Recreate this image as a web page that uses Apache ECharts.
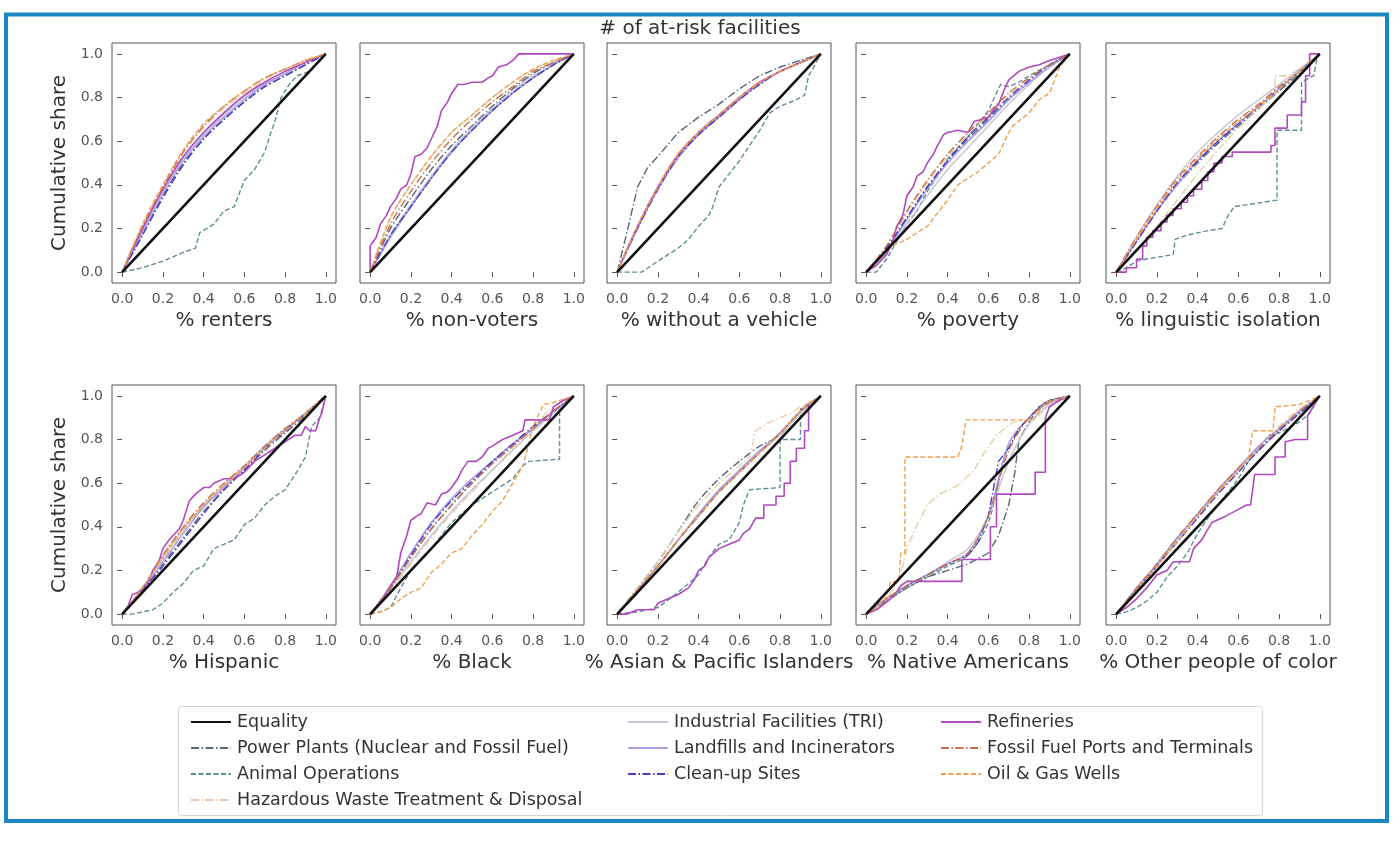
<!DOCTYPE html>
<html>

<head>
  <meta charset="utf-8">
  <title># of at-risk facilities</title>
  <script type="text/JavaScript" src="https://cdn.jsdelivr.net/npm/echarts@6/dist/echarts.min.js"></script>
  <style>
    body {
      background-color: #fff;
      padding: 0;
      margin: 0;
    }

    #main {
      width: 1400px;
      height: 855px;
    }
  </style>
</head>

<body>
  <div id="main"></div>

  <script type="text/javascript">
    // x positions for rows given as plain y lists
    var xGrid = [0, 0.1, 0.2, 0.3, 0.4, 0.5, 0.6, 0.7, 0.8, 0.9, 1];
    var tickValues = [0, 0.2, 0.4, 0.6, 0.8, 1.0];

    var panelNames = ['% renters', '% non-voters', '% without a vehicle', '% poverty', '% linguistic isolation',
      '% Hispanic', '% Black', '% Asian & Pacific Islanders', '% Native Americans', '% Other people of color'];

    var seriesNames = ['Equality', 'Power Plants (Nuclear and Fossil Fuel)', 'Animal Operations',
      'Hazardous Waste Treatment & Disposal', 'Industrial Facilities (TRI)', 'Landfills and Incinerators',
      'Clean-up Sites', 'Refineries', 'Fossil Fuel Ports and Terminals', 'Oil & Gas Wells'];

    var equality = [[0, 0], [1, 1]];

    // one row per panel: either y values on xGrid, or [x, y] points
    var powerPlants = [
      [0, 0.17, 0.35, 0.50, 0.61, 0.70, 0.78, 0.85, 0.90, 0.95, 1],
      [0, 0.20, 0.34, 0.47, 0.58, 0.67, 0.76, 0.84, 0.91, 0.96, 1],
      [[0, 0], [0.05, 0.19], [0.1, 0.39], [0.15, 0.48], [0.2, 0.53], [0.3, 0.64], [0.4, 0.71], [0.5, 0.77], [0.6, 0.84], [0.7, 0.9], [0.8, 0.94], [0.9, 0.97], [1, 1]],
      [0, 0.11, 0.25, 0.39, 0.51, 0.61, 0.70, 0.79, 0.87, 0.94, 1],
      [0, 0.14, 0.28, 0.40, 0.50, 0.59, 0.67, 0.75, 0.83, 0.91, 1],
      [0, 0.11, 0.23, 0.35, 0.47, 0.57, 0.66, 0.75, 0.83, 0.91, 1],
      [0, 0.12, 0.26, 0.39, 0.50, 0.60, 0.69, 0.77, 0.85, 0.93, 1],
      [0, 0.12, 0.24, 0.38, 0.52, 0.62, 0.70, 0.77, 0.82, 0.93, 1],
      [[0, 0], [0.1, 0.06], [0.2, 0.12], [0.3, 0.17], [0.4, 0.2], [0.5, 0.23], [0.6, 0.28], [0.65, 0.36], [0.7, 0.5], [0.73, 0.65], [0.75, 0.8], [0.8, 0.88], [0.85, 0.95], [0.9, 0.98], [1, 1]],
      [0, 0.11, 0.22, 0.34, 0.45, 0.56, 0.66, 0.75, 0.84, 0.92, 1]
    ];

    var animalOps = [
      [[0, 0], [0.1, 0.02], [0.2, 0.05], [0.3, 0.09], [0.36, 0.11], [0.38, 0.18], [0.45, 0.22], [0.5, 0.28], [0.55, 0.3], [0.6, 0.42], [0.65, 0.47], [0.7, 0.55], [0.73, 0.64], [0.75, 0.69], [0.78, 0.8], [0.82, 0.86], [0.86, 0.9], [0.92, 0.92], [0.95, 0.95], [1, 1]],
      [0, 0.16, 0.30, 0.43, 0.55, 0.65, 0.74, 0.82, 0.89, 0.95, 1],
      [[0, 0], [0.12, 0], [0.2, 0.05], [0.3, 0.11], [0.35, 0.15], [0.4, 0.21], [0.45, 0.26], [0.47, 0.3], [0.5, 0.39], [0.55, 0.45], [0.6, 0.51], [0.65, 0.58], [0.7, 0.65], [0.75, 0.73], [0.8, 0.76], [0.88, 0.79], [0.92, 0.81], [0.94, 0.9], [0.96, 0.93], [1, 1]],
      [[0, 0], [0.05, 0], [0.1, 0.06], [0.15, 0.14], [0.2, 0.22], [0.25, 0.28], [0.3, 0.37], [0.35, 0.44], [0.4, 0.52], [0.45, 0.57], [0.5, 0.62], [0.55, 0.68], [0.6, 0.74], [0.66, 0.86], [0.7, 0.85], [0.75, 0.87], [0.8, 0.9], [0.9, 0.95], [1, 1]],
      [[0, 0], [0.05, 0.02], [0.1, 0.05], [0.15, 0.06], [0.28, 0.08], [0.29, 0.15], [0.35, 0.17], [0.45, 0.19], [0.52, 0.2], [0.55, 0.26], [0.58, 0.3], [0.65, 0.31], [0.79, 0.33], [0.79, 0.65], [0.91, 0.65], [0.91, 0.87], [0.97, 0.9], [0.99, 1], [1, 1]],
      [[0, 0], [0.05, 0], [0.1, 0.01], [0.15, 0.02], [0.2, 0.05], [0.25, 0.1], [0.3, 0.14], [0.35, 0.2], [0.4, 0.22], [0.45, 0.3], [0.5, 0.32], [0.55, 0.34], [0.6, 0.41], [0.65, 0.44], [0.7, 0.5], [0.75, 0.54], [0.8, 0.57], [0.85, 0.64], [0.9, 0.72], [0.93, 0.86], [0.97, 0.9], [1, 1]],
      [[0, 0], [0.05, 0.01], [0.1, 0.03], [0.15, 0.12], [0.2, 0.2], [0.3, 0.3], [0.4, 0.42], [0.5, 0.5], [0.6, 0.56], [0.7, 0.62], [0.75, 0.68], [0.78, 0.7], [0.93, 0.71], [0.93, 0.95], [0.97, 0.97], [1, 1]],
      [[0, 0], [0.1, 0.01], [0.2, 0.03], [0.3, 0.1], [0.4, 0.18], [0.45, 0.26], [0.5, 0.32], [0.55, 0.34], [0.6, 0.42], [0.62, 0.5], [0.65, 0.57], [0.8, 0.58], [0.8, 0.8], [0.9, 0.8], [0.9, 0.94], [1, 1]],
      [0, 0.06, 0.12, 0.17, 0.22, 0.27, 0.42, 0.78, 0.9, 0.97, 1],
      [[0, 0], [0.05, 0.01], [0.1, 0.03], [0.15, 0.06], [0.2, 0.1], [0.25, 0.17], [0.3, 0.22], [0.35, 0.28], [0.4, 0.37], [0.45, 0.44], [0.5, 0.5], [0.55, 0.56], [0.6, 0.62], [0.65, 0.7], [0.7, 0.76], [0.75, 0.82], [0.8, 0.83], [0.9, 0.88], [0.95, 0.92], [1, 1]]
    ];

    var hazWaste = [
      [0, 0.21, 0.39, 0.55, 0.66, 0.75, 0.82, 0.88, 0.93, 0.97, 1],
      [0, 0.25, 0.40, 0.53, 0.64, 0.72, 0.80, 0.87, 0.93, 0.97, 1],
      [0, 0.21, 0.39, 0.54, 0.64, 0.72, 0.80, 0.87, 0.92, 0.96, 1],
      [0, 0.12, 0.27, 0.41, 0.53, 0.63, 0.72, 0.81, 0.88, 0.95, 1],
      [[0, 0], [0.1, 0.1], [0.2, 0.21], [0.3, 0.33], [0.4, 0.45], [0.5, 0.56], [0.6, 0.66], [0.7, 0.75], [0.78, 0.82], [0.78, 0.9], [0.85, 0.9], [0.9, 0.93], [1, 1]],
      [0, 0.12, 0.25, 0.38, 0.49, 0.58, 0.67, 0.76, 0.84, 0.92, 1],
      [0, 0.11, 0.23, 0.35, 0.46, 0.56, 0.66, 0.76, 0.86, 0.95, 1],
      [[0, 0], [0.1, 0.12], [0.2, 0.24], [0.3, 0.38], [0.4, 0.5], [0.5, 0.6], [0.6, 0.68], [0.65, 0.72], [0.68, 0.84], [0.75, 0.88], [0.85, 0.92], [0.9, 0.95], [1, 1]],
      [[0, 0], [0.1, 0.07], [0.15, 0.14], [0.18, 0.22], [0.2, 0.3], [0.24, 0.39], [0.3, 0.5], [0.36, 0.55], [0.45, 0.59], [0.53, 0.66], [0.58, 0.74], [0.64, 0.82], [0.72, 0.88], [0.82, 0.89], [0.92, 0.97], [1, 1]],
      [0, 0.11, 0.23, 0.34, 0.45, 0.56, 0.66, 0.76, 0.86, 0.94, 1]
    ];

    var triFacilities = [
      [0, 0.19, 0.37, 0.52, 0.63, 0.72, 0.80, 0.86, 0.91, 0.96, 1],
      [0, 0.17, 0.31, 0.44, 0.56, 0.66, 0.75, 0.83, 0.90, 0.95, 1],
      [0, 0.21, 0.38, 0.52, 0.63, 0.71, 0.79, 0.86, 0.92, 0.96, 1],
      [0, 0.09, 0.22, 0.35, 0.47, 0.57, 0.67, 0.77, 0.86, 0.94, 1],
      [0, 0.16, 0.31, 0.44, 0.55, 0.64, 0.72, 0.79, 0.86, 0.93, 1],
      [0, 0.12, 0.26, 0.39, 0.50, 0.59, 0.68, 0.77, 0.85, 0.92, 1],
      [0, 0.12, 0.24, 0.36, 0.47, 0.57, 0.66, 0.75, 0.84, 0.92, 1],
      [0, 0.11, 0.22, 0.34, 0.45, 0.56, 0.65, 0.74, 0.82, 0.92, 1],
      [0, 0.07, 0.13, 0.18, 0.24, 0.30, 0.45, 0.70, 0.87, 0.96, 1],
      [0, 0.11, 0.22, 0.34, 0.45, 0.56, 0.66, 0.75, 0.84, 0.92, 1]
    ];

    var landfills = [
      [0, 0.18, 0.36, 0.51, 0.62, 0.71, 0.79, 0.86, 0.91, 0.96, 1],
      [0, 0.16, 0.30, 0.43, 0.55, 0.65, 0.74, 0.82, 0.89, 0.95, 1],
      [0, 0.20, 0.38, 0.53, 0.63, 0.71, 0.79, 0.87, 0.92, 0.96, 1],
      [0, 0.10, 0.24, 0.38, 0.50, 0.60, 0.69, 0.79, 0.87, 0.94, 1],
      [0, 0.14, 0.28, 0.40, 0.51, 0.60, 0.68, 0.76, 0.84, 0.92, 1],
      [0, 0.11, 0.24, 0.37, 0.49, 0.58, 0.67, 0.76, 0.84, 0.92, 1],
      [0, 0.13, 0.28, 0.42, 0.53, 0.62, 0.70, 0.78, 0.85, 0.93, 1],
      [0, 0.11, 0.22, 0.34, 0.46, 0.57, 0.66, 0.75, 0.83, 0.93, 1],
      [0, 0.07, 0.13, 0.18, 0.23, 0.28, 0.45, 0.78, 0.90, 0.97, 1],
      [0, 0.12, 0.23, 0.35, 0.46, 0.57, 0.67, 0.77, 0.85, 0.93, 1]
    ];

    var cleanupSites = [
      [0, 0.17, 0.34, 0.49, 0.61, 0.70, 0.78, 0.85, 0.90, 0.95, 1],
      [0, 0.17, 0.30, 0.43, 0.55, 0.65, 0.74, 0.82, 0.89, 0.95, 1],
      [0, 0.20, 0.38, 0.53, 0.63, 0.71, 0.79, 0.86, 0.92, 0.96, 1],
      [0, 0.11, 0.25, 0.39, 0.51, 0.62, 0.71, 0.80, 0.88, 0.95, 1],
      [0, 0.14, 0.28, 0.41, 0.51, 0.60, 0.68, 0.76, 0.84, 0.92, 1],
      [0, 0.11, 0.22, 0.34, 0.46, 0.57, 0.66, 0.76, 0.84, 0.92, 1],
      [0, 0.12, 0.27, 0.41, 0.52, 0.61, 0.70, 0.78, 0.86, 0.93, 1],
      [0, 0.11, 0.22, 0.34, 0.45, 0.56, 0.65, 0.74, 0.83, 0.93, 1],
      [[0, 0], [0.05, 0.04], [0.1, 0.07], [0.15, 0.1], [0.2, 0.13], [0.3, 0.18], [0.4, 0.23], [0.5, 0.27], [0.55, 0.33], [0.6, 0.45], [0.62, 0.55], [0.65, 0.7], [0.7, 0.76], [0.75, 0.85], [0.8, 0.9], [0.85, 0.95], [0.9, 0.98], [1, 1]],
      [0, 0.11, 0.22, 0.33, 0.44, 0.55, 0.65, 0.75, 0.84, 0.92, 1]
    ];

    var refineries = [
      [0, 0.20, 0.38, 0.53, 0.64, 0.73, 0.81, 0.87, 0.92, 0.96, 1],
      [[0, 0], [0, 0.12], [0.03, 0.16], [0.05, 0.22], [0.08, 0.26], [0.1, 0.3], [0.13, 0.34], [0.15, 0.38], [0.18, 0.4], [0.2, 0.45], [0.22, 0.53], [0.25, 0.54], [0.28, 0.57], [0.3, 0.61], [0.33, 0.67], [0.35, 0.74], [0.38, 0.78], [0.4, 0.82], [0.43, 0.86], [0.46, 0.86], [0.5, 0.87], [0.55, 0.87], [0.58, 0.89], [0.6, 0.9], [0.63, 0.94], [0.67, 0.95], [0.7, 0.97], [0.73, 1], [1, 1]],
      [0, 0.21, 0.39, 0.54, 0.64, 0.72, 0.80, 0.87, 0.92, 0.96, 1],
      [[0, 0], [0.05, 0.03], [0.1, 0.08], [0.13, 0.14], [0.15, 0.21], [0.18, 0.26], [0.2, 0.35], [0.23, 0.39], [0.25, 0.44], [0.28, 0.46], [0.3, 0.5], [0.33, 0.54], [0.35, 0.58], [0.38, 0.63], [0.4, 0.64], [0.45, 0.65], [0.5, 0.64], [0.53, 0.69], [0.6, 0.71], [0.63, 0.75], [0.65, 0.77], [0.68, 0.84], [0.7, 0.88], [0.75, 0.92], [0.8, 0.94], [0.85, 0.95], [0.9, 0.97], [1, 1]],
      [[0, 0], [0.05, 0], [0.05, 0.02], [0.1, 0.02], [0.1, 0.06], [0.13, 0.06], [0.13, 0.12], [0.15, 0.12], [0.15, 0.16], [0.18, 0.16], [0.18, 0.19], [0.22, 0.19], [0.22, 0.23], [0.25, 0.23], [0.25, 0.26], [0.28, 0.26], [0.28, 0.29], [0.32, 0.29], [0.32, 0.32], [0.35, 0.32], [0.35, 0.35], [0.38, 0.35], [0.38, 0.38], [0.42, 0.38], [0.42, 0.42], [0.45, 0.42], [0.45, 0.46], [0.48, 0.46], [0.48, 0.5], [0.52, 0.5], [0.52, 0.53], [0.57, 0.53], [0.57, 0.55], [0.76, 0.55], [0.76, 0.58], [0.78, 0.58], [0.78, 0.66], [0.84, 0.66], [0.84, 0.72], [0.91, 0.72], [0.91, 0.78], [0.93, 0.78], [0.93, 0.9], [0.95, 0.9], [0.95, 1], [1, 1]],
      [[0, 0], [0.03, 0.04], [0.05, 0.09], [0.08, 0.1], [0.1, 0.12], [0.13, 0.15], [0.15, 0.2], [0.18, 0.24], [0.2, 0.3], [0.23, 0.34], [0.25, 0.36], [0.28, 0.39], [0.3, 0.43], [0.33, 0.52], [0.36, 0.55], [0.4, 0.58], [0.43, 0.58], [0.45, 0.6], [0.5, 0.62], [0.55, 0.62], [0.6, 0.65], [0.65, 0.7], [0.7, 0.73], [0.75, 0.76], [0.8, 0.79], [0.85, 0.82], [0.88, 0.82], [0.9, 0.86], [0.92, 0.84], [0.95, 0.84], [0.97, 0.9], [0.98, 0.92], [1, 1]],
      [[0, 0], [0.05, 0.05], [0.1, 0.13], [0.13, 0.17], [0.15, 0.28], [0.18, 0.36], [0.2, 0.43], [0.23, 0.45], [0.25, 0.46], [0.28, 0.51], [0.32, 0.5], [0.35, 0.55], [0.38, 0.56], [0.4, 0.58], [0.43, 0.62], [0.45, 0.66], [0.48, 0.7], [0.52, 0.7], [0.55, 0.72], [0.58, 0.76], [0.6, 0.77], [0.65, 0.8], [0.7, 0.82], [0.75, 0.84], [0.76, 0.89], [0.88, 0.89], [0.9, 0.95], [0.95, 0.98], [1, 1]],
      [[0, 0], [0.05, 0], [0.1, 0.02], [0.18, 0.02], [0.2, 0.05], [0.25, 0.07], [0.3, 0.09], [0.35, 0.12], [0.38, 0.16], [0.4, 0.2], [0.43, 0.22], [0.45, 0.26], [0.5, 0.3], [0.55, 0.32], [0.6, 0.34], [0.62, 0.37], [0.65, 0.39], [0.68, 0.44], [0.72, 0.44], [0.72, 0.5], [0.78, 0.5], [0.78, 0.54], [0.82, 0.54], [0.82, 0.6], [0.85, 0.6], [0.85, 0.7], [0.88, 0.7], [0.88, 0.76], [0.92, 0.76], [0.92, 0.84], [0.94, 0.84], [0.94, 0.96], [1, 1]],
      [[0, 0], [0.05, 0.02], [0.08, 0.04], [0.12, 0.07], [0.15, 0.1], [0.17, 0.13], [0.2, 0.15], [0.47, 0.15], [0.47, 0.25], [0.61, 0.25], [0.61, 0.4], [0.64, 0.4], [0.64, 0.55], [0.83, 0.55], [0.83, 0.65], [0.88, 0.65], [0.88, 0.9], [0.9, 0.95], [0.95, 0.98], [1, 1]],
      [[0, 0], [0.05, 0.03], [0.1, 0.07], [0.15, 0.12], [0.2, 0.18], [0.25, 0.2], [0.28, 0.24], [0.36, 0.24], [0.38, 0.3], [0.42, 0.34], [0.47, 0.42], [0.54, 0.45], [0.6, 0.48], [0.64, 0.5], [0.66, 0.5], [0.68, 0.64], [0.78, 0.64], [0.78, 0.72], [0.83, 0.72], [0.83, 0.79], [0.88, 0.8], [0.94, 0.8], [0.94, 0.91], [1, 1]]
    ];

    var fuelPorts = [
      [0, 0.21, 0.39, 0.55, 0.67, 0.76, 0.83, 0.89, 0.93, 0.97, 1],
      [0, 0.22, 0.37, 0.50, 0.61, 0.70, 0.78, 0.85, 0.92, 0.96, 1],
      [0, 0.21, 0.39, 0.54, 0.64, 0.72, 0.80, 0.87, 0.92, 0.96, 1],
      [0, 0.12, 0.28, 0.42, 0.54, 0.64, 0.73, 0.82, 0.89, 0.95, 1],
      [0, 0.16, 0.30, 0.43, 0.53, 0.62, 0.70, 0.77, 0.85, 0.92, 1],
      [0, 0.12, 0.27, 0.40, 0.51, 0.60, 0.68, 0.77, 0.85, 0.92, 1],
      [0, 0.12, 0.26, 0.39, 0.50, 0.60, 0.69, 0.77, 0.85, 0.93, 1],
      [0, 0.11, 0.22, 0.34, 0.45, 0.56, 0.65, 0.74, 0.83, 0.93, 1],
      [0, 0.07, 0.13, 0.18, 0.23, 0.28, 0.45, 0.75, 0.90, 0.97, 1],
      [0, 0.12, 0.23, 0.35, 0.46, 0.57, 0.67, 0.76, 0.85, 0.93, 1]
    ];

    var oilGasWells = [
      [0, 0.22, 0.40, 0.56, 0.68, 0.76, 0.83, 0.89, 0.93, 0.97, 1],
      [0, 0.25, 0.40, 0.53, 0.64, 0.72, 0.80, 0.87, 0.93, 0.97, 1],
      [0, 0.21, 0.39, 0.54, 0.64, 0.72, 0.80, 0.87, 0.92, 0.96, 1],
      [[0, 0], [0.05, 0.06], [0.1, 0.1], [0.15, 0.13], [0.2, 0.15], [0.25, 0.18], [0.3, 0.21], [0.35, 0.27], [0.4, 0.33], [0.45, 0.4], [0.5, 0.43], [0.55, 0.46], [0.6, 0.5], [0.65, 0.54], [0.7, 0.64], [0.72, 0.67], [0.8, 0.73], [0.85, 0.79], [0.9, 0.82], [0.95, 0.94], [1, 1]],
      [0, 0.15, 0.29, 0.42, 0.52, 0.61, 0.69, 0.76, 0.84, 0.92, 1],
      [0, 0.12, 0.26, 0.39, 0.50, 0.59, 0.67, 0.76, 0.84, 0.92, 1],
      [[0, 0], [0.05, 0.01], [0.1, 0.03], [0.15, 0.07], [0.2, 0.1], [0.25, 0.12], [0.3, 0.19], [0.35, 0.23], [0.4, 0.28], [0.45, 0.3], [0.5, 0.36], [0.55, 0.41], [0.6, 0.47], [0.65, 0.52], [0.7, 0.6], [0.75, 0.68], [0.77, 0.75], [0.8, 0.86], [0.85, 0.96], [0.9, 0.97], [1, 1]],
      [0, 0.11, 0.22, 0.34, 0.45, 0.56, 0.65, 0.74, 0.83, 0.93, 1],
      [[0, 0], [0.05, 0.03], [0.1, 0.08], [0.12, 0.15], [0.16, 0.15], [0.17, 0.28], [0.19, 0.28], [0.19, 0.72], [0.45, 0.72], [0.47, 0.77], [0.49, 0.89], [0.82, 0.89], [0.85, 0.93], [0.88, 0.97], [1, 1]],
      [[0, 0], [0.1, 0.11], [0.2, 0.22], [0.3, 0.33], [0.4, 0.45], [0.5, 0.56], [0.6, 0.66], [0.65, 0.72], [0.67, 0.84], [0.77, 0.84], [0.78, 0.95], [0.9, 0.96], [1, 1]]
    ];

    var rowsBySeries = [null, powerPlants, animalOps, hazWaste, triFacilities, landfills,
      cleanupSites, refineries, fuelPorts, oilGasWells];

    // line looks, same order as seriesNames
    var DASH = [5, 2.5], DASHDOT = [8, 2.5, 1.5, 2.5];
    var looks = [
      { color: '#111111', width: 2.6, type: 'solid' },
      { color: '#56687a', width: 1.4, type: DASHDOT },
      { color: '#5f8f96', width: 1.4, type: DASH },
      { color: '#e6cfa8', width: 1.4, type: DASHDOT },
      { color: '#c6c6d6', width: 1.5, type: 'solid' },
      { color: '#a99de6', width: 1.5, type: 'solid' },
      { color: '#4b3cc4', width: 1.4, type: DASHDOT },
      { color: '#b048c0', width: 1.6, type: 'solid' },
      { color: '#c5704c', width: 1.4, type: DASHDOT },
      { color: '#f0a050', width: 1.4, type: DASH }
    ];

    var colLefts = [112, 360, 607, 856, 1106];
    var rowTops = [43, 385];
    var FONT = 'DejaVu Sans';

    function toPoints(row) {
      if (Array.isArray(row[0])) return row;
      return row.map(function (y, i) { return [xGrid[i], y]; });
    }

    var grids = [], xAxes = [], yAxes = [], series = [];
    for (var p = 0; p < 10; p++) {
      var col = p % 5, r = Math.floor(p / 5);
      grids.push({
        left: colLefts[col], top: rowTops[r], width: 224, height: 240,
        show: true, borderColor: '#555', borderWidth: 1, backgroundColor: 'transparent'
      });
      xAxes.push({
        gridIndex: p, type: 'value', min: -0.05, max: 1.05,
        name: panelNames[p], nameLocation: 'middle', nameGap: 28,
        nameTextStyle: { fontSize: 20, color: '#333', fontFamily: FONT },
        axisLine: { show: false }, splitLine: { show: false },
        axisTick: { show: true, length: 5, customValues: tickValues, lineStyle: { color: '#555' } },
        axisLabel: {
          customValues: tickValues, margin: 9, fontSize: 14, color: '#555', fontFamily: FONT,
          formatter: function (v) { return v.toFixed(1); }
        }
      });
      yAxes.push({
        gridIndex: p, type: 'value', min: -0.05, max: 1.05,
        name: col === 0 ? 'Cumulative share' : '', nameLocation: 'middle', nameGap: 42,
        nameTextStyle: { fontSize: 20, color: '#333', fontFamily: FONT },
        axisLine: { show: false }, splitLine: { show: false },
        axisTick: { show: true, length: 5, customValues: tickValues, lineStyle: { color: '#555' } },
        axisLabel: {
          show: col === 0, customValues: tickValues, margin: 9, fontSize: 14, color: '#555', fontFamily: FONT,
          formatter: function (v) { return v.toFixed(1); }
        }
      });

      for (var s = 0; s < seriesNames.length; s++) {
        var row = s === 0 ? equality : rowsBySeries[s][p];
        var isGrid = !Array.isArray(row[0]);
        series.push({
          name: seriesNames[s], type: 'line', xAxisIndex: p, yAxisIndex: p,
          data: toPoints(row), symbol: 'none',
          silent: true, animation: false,
          smooth: isGrid ? 0.3 : false,
          z: s === 0 ? 5 : 2,
          lineStyle: { color: looks[s].color, width: looks[s].width, type: looks[s].type },
          itemStyle: { color: looks[s].color }
        });
      }
    }

    function legendBlock(names, left) {
      return {
        data: names, orient: 'vertical', left: left, top: 708,
        itemWidth: 40, itemHeight: 14, itemGap: 8, selectedMode: false,
        // hide the marker dot, keep only the line sample
        itemStyle: { opacity: 0 },
        textStyle: { fontSize: 17.5, lineHeight: 18, color: '#333', fontFamily: FONT, padding: [0, 0, 0, 1] }
      };
    }

    var option = {
      backgroundColor: '#fff',
      animation: false,
      title: {
        text: '# of at-risk facilities', left: 'center', top: 19, padding: 0,
        textStyle: { fontSize: 20, fontWeight: 'normal', color: '#333', fontFamily: FONT }
      },
      graphic: [
        {
          type: 'rect', shape: { x: 6, y: 14.5, width: 1381, height: 806.5 },
          style: { fill: 'none', stroke: '#1a87c4', lineWidth: 4 }, z: 100
        },
        {
          type: 'rect', shape: { x: 178.5, y: 706.5, width: 1084, height: 109, r: 3 },
          style: { fill: '#fff', stroke: '#d4d4d4', lineWidth: 1 }, z: -1
        }
      ],
      legend: [
        legendBlock(seriesNames.slice(0, 4), 185),
        legendBlock(seriesNames.slice(4, 7), 622),
        legendBlock(seriesNames.slice(7, 10), 935)
      ],
      grid: grids,
      xAxis: xAxes,
      yAxis: yAxes,
      series: series
    };

    var chart = echarts.init(document.getElementById('main'));
    chart.setOption(option);
  </script>
</body>

</html>
